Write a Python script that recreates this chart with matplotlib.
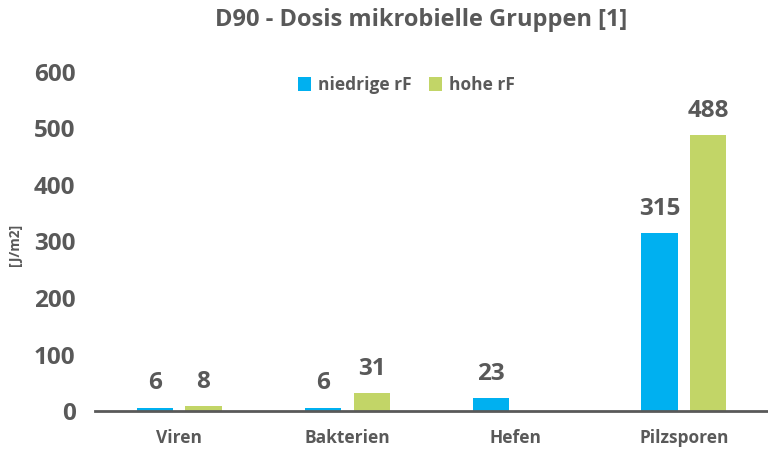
import numpy as np
import matplotlib
matplotlib.use("Agg")
import matplotlib.pyplot as plt

plt.rcParams['font.family'] = ['Open Sans', 'DejaVu Sans']

# Daten
kategorien = ['Viren', 'Bakterien', 'Hefen', 'Pilzsporen']
niedrige_rf = [6, 6, 23, 315]
hohe_rf = [8, 31, np.nan, 488]
y_ticks = [0, 100, 200, 300, 400, 500, 600]

grau = '#595959'
blau = '#00B0F0'
gruen = '#C2D567'

fig = plt.figure(figsize=(7.68, 4.5), dpi=100)
ax = fig.add_axes([95 / 768, 39 / 450, 673 / 768, 339 / 450])

x = np.arange(len(kategorien))
breite = 0.215
versatz = 0.145

b1 = ax.bar(x - versatz, niedrige_rf, breite, color=blau, label='niedrige rF')
b2 = ax.bar(x + versatz, hohe_rf, breite, color=gruen, label='hohe rF')

# Datenbeschriftungen
for balken, werte in ((b1, niedrige_rf), (b2, hohe_rf)):
    for rect, w in zip(balken, werte):
        if np.isnan(w):
            continue
        ax.annotate(f'{w:.0f}', (rect.get_x() + rect.get_width() / 2, w),
                    xytext=(0, 9), textcoords='offset points',
                    ha='center', va='bottom', fontsize=17.5,
                    fontweight='bold', color=grau)

ax.set_xlim(-0.5, 3.5)
ax.set_ylim(0, 600)
ax.set_xticks(x)
ax.set_xticklabels(kategorien, fontsize=12.5, fontweight='bold', color=grau)
ax.set_yticks(y_ticks)
ax.set_yticklabels([str(t) for t in y_ticks], fontsize=17.5,
                   fontweight='bold', color=grau)
ax.tick_params(axis='y', length=0, pad=14)
ax.tick_params(axis='x', length=0, pad=13)

for s in ['top', 'right', 'left']:
    ax.spines[s].set_visible(False)
ax.spines['bottom'].set_color(grau)
ax.spines['bottom'].set_linewidth(2)

fig.legend(loc='center', bbox_to_anchor=(406 / 768, 1 - 85 / 450),
           ncol=2, frameon=False, handlelength=0.8, handleheight=0.8,
           columnspacing=1.0, handletextpad=0.35,
           prop={'size': 12.5, 'weight': 'bold'}, labelcolor=grau)

fig.text(421 / 768, 1 - 20 / 450, 'D90 - Dosis mikrobielle Gruppen [1]',
         ha='center', va='center', fontsize=17, fontweight='bold', color=grau)
fig.text(15 / 768, 1 - 245 / 450, '[J/m2]', rotation=90, ha='center',
         va='center', fontsize=10, fontweight='bold', color=grau)

fig.savefig('out.png', dpi=100)
